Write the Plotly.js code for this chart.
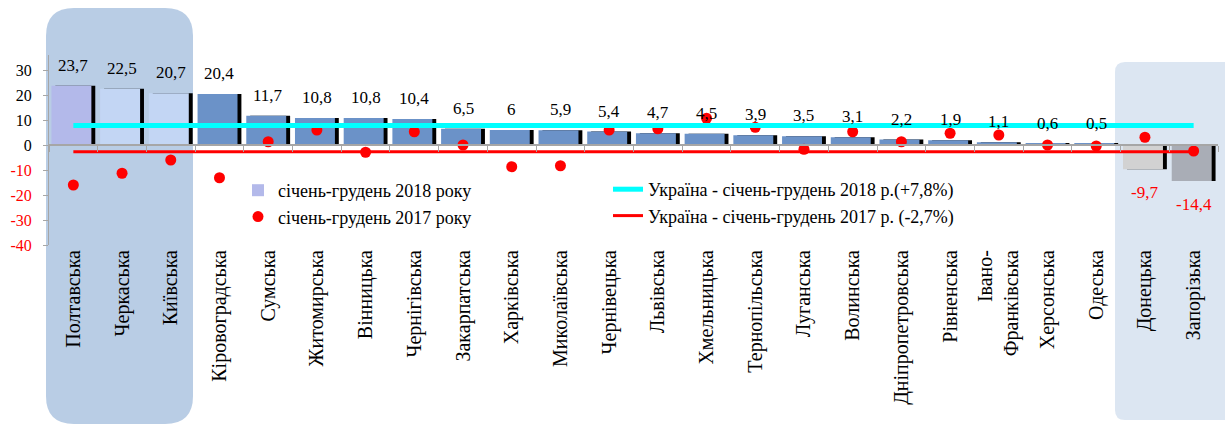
<!DOCTYPE html>
<html>
<head>
<meta charset="utf-8">
<script src="https://cdn.plot.ly/plotly-3.0.1.min.js"></script>
<style>
  html, body { margin: 0; padding: 0; background: #ffffff; }
  #chart { width: 1225px; height: 427px; }
</style>
</head>
<body>
<div id="chart"></div>
<script>
// Regions of Ukraine, sorted by growth in 2018
const regions = [
  'Полтавська', 'Черкаська', 'Київська', 'Кіровоградська', 'Сумська',
  'Житомирська', 'Вінницька', 'Чернігівська', 'Закарпатська', 'Харківська',
  'Миколаївська', 'Чернівецька', 'Львівська', 'Хмельницька', 'Тернопільська',
  'Луганська', 'Волинська', 'Дніпропетровська', 'Рівненська', 'Івано-<br>Франківська',
  'Херсонська', 'Одеська', 'Донецька', 'Запорізька'
];

// січень-грудень 2018 року, %
const growth2018 = [23.7, 22.5, 20.7, 20.4, 11.7, 10.8, 10.8, 10.4, 6.5, 6, 5.9, 5.4,
                    4.7, 4.5, 3.9, 3.5, 3.1, 2.2, 1.9, 1.1, 0.6, 0.5, -9.7, -14.4];

// січень-грудень 2017 року, %
const growth2017 = [-16.0, -11.3, -6.0, -13.1, 1.3, 6.0, -2.9, 5.3, 0.0, -8.7, -8.3, 6.0,
                    6.5, 10.7, 7.1, -1.7, 5.3, 1.3, 4.7, 4.0, 0.0, -0.4, 3.1, -2.4];

// Ukraine totals
const ukraine2018 = 7.8;
const ukraine2017 = -2.7;

const yTicks = [30, 20, 10, 0, -10, -20, -30, -40];

// ---- styling ----
const FONT = 'Liberation Serif';
const RED = '#ff0000';
const barColors = regions.map((r, i) => {
  if (i === 0) return '#b3b9ea';
  if (i === 1 || i === 2) return '#c3d6f4';
  if (i === 22) return '#d2d2d2';
  if (i === 23) return '#a9adb6';
  return '#6b92c8';
});

const fmt = v => String(v).replace('.', ',');

const lastIdx = regions.length - 1;
const ends = [regions[0], regions[lastIdx]];

const traces = [
  // bar shadow
  {
    type: 'bar', x: regions, y: growth2018,
    marker: { color: '#000000' },
    width: 0.82, offset: -0.37,
    showlegend: false, hoverinfo: 'skip'
  },
  {
    type: 'bar', x: regions, y: growth2018,
    name: 'січень-грудень 2018 року',
    marker: { color: barColors, line: { width: 0 } },
    width: 0.82, offset: -0.45,
    legend: 'legend'
  },
  {
    type: 'scatter', mode: 'lines', xaxis: 'x2',
    x: ends, y: [ukraine2017, ukraine2017],
    name: 'Україна - січень-грудень 2017 р. (-2,7%)',
    line: { color: RED, width: 3 },
    legend: 'legend2', legendrank: 2
  },
  {
    type: 'scatter', mode: 'lines', xaxis: 'x2',
    x: ends, y: [ukraine2018, ukraine2018],
    name: 'Україна - січень-грудень 2018 р.(+7,8%)',
    line: { color: '#00ffff', width: 5 },
    legend: 'legend2', legendrank: 1
  },
  {
    type: 'scatter', mode: 'markers', x: regions, y: growth2017,
    name: 'січень-грудень 2017 року',
    marker: { color: RED, size: 11 },
    legend: 'legend'
  }
];

// value labels on the bars
const annotations = growth2018.map((v, i) => ({
  x: regions[i], y: v, xref: 'x', yref: 'y',
  text: fmt(v), showarrow: false,
  yanchor: v >= 0 ? 'bottom' : 'top',
  yshift: v >= 0 ? 9 : -12,
  font: { family: FONT, size: 17, color: v >= 0 ? '#000000' : RED }
}));

// plot area in pixels, used to place the highlight panels
const L = 49, R = 7, T = 55, B = 182, W = 1225, H = 427;
const pw = W - L - R, ph = H - T - B;
const px = x => (x - L) / pw;
const py = y => (H - B - y) / ph;

function roundedPanel(x0p, x1p, ytp, ybp, rTL, rTR, rBR, rBL) {
  const x0 = px(x0p), x1 = px(x1p), yt = py(ytp), yb = py(ybp);
  const rx = r => r / pw, ry = r => r / ph;
  return 'M' + (x0 + rx(rTL)) + ',' + yt +
    ' L' + (x1 - rx(rTR)) + ',' + yt +
    ' Q' + x1 + ',' + yt + ' ' + x1 + ',' + (yt - ry(rTR)) +
    ' L' + x1 + ',' + (yb + ry(rBR)) +
    ' Q' + x1 + ',' + yb + ' ' + (x1 - rx(rBR)) + ',' + yb +
    ' L' + (x0 + rx(rBL)) + ',' + yb +
    ' Q' + x0 + ',' + yb + ' ' + x0 + ',' + (yb + ry(rBL)) +
    ' L' + x0 + ',' + (yt - ry(rTL)) +
    ' Q' + x0 + ',' + yt + ' ' + (x0 + rx(rTL)) + ',' + yt + ' Z';
}

const shapes = [
  {
    type: 'path', xref: 'paper', yref: 'paper', layer: 'below',
    path: roundedPanel(46, 193, 8, 424, 28, 28, 28, 28),
    fillcolor: '#b9cde5', line: { width: 0 }
  },
  {
    type: 'path', xref: 'paper', yref: 'paper', layer: 'below',
    path: roundedPanel(1115, 1240, 62, 420, 10, 0, 0, 10),
    fillcolor: '#dce6f2', line: { width: 0 }
  }
];

const catRange = [-0.5, regions.length - 0.5];
const yRange = [-40, 36];

const layout = {
  width: W, height: H,
  margin: { l: L, r: R, t: T, b: B },
  paper_bgcolor: '#ffffff',
  plot_bgcolor: 'rgba(0,0,0,0)',
  font: { family: FONT, color: '#000000' },
  barmode: 'overlay',
  xaxis: {
    type: 'category', categoryorder: 'array', categoryarray: regions,
    range: catRange, showline: false, ticks: '', showgrid: false, zeroline: false,
    tickangle: -90, tickfont: { family: FONT, size: 20, color: '#000000' }
  },
  // axis line drawn through zero with separators between regions
  xaxis2: {
    type: 'category', categoryorder: 'array', categoryarray: regions,
    range: catRange, overlaying: 'x', anchor: 'free',
    position: (0 - yRange[0]) / (yRange[1] - yRange[0]),
    showline: true, linecolor: '#a6a6a6', linewidth: 1.5,
    ticks: 'outside', tickson: 'boundaries', ticklen: 6, tickcolor: '#a6a6a6',
    showticklabels: false, showgrid: false, zeroline: false
  },
  yaxis: {
    range: yRange, tickmode: 'array', tickvals: yTicks,
    ticktext: yTicks.map(t => t < 0 ? '<span style="color:' + RED + '">' + t + '</span>' : String(t)),
    showline: true, linecolor: '#a6a6a6', ticks: 'outside', ticklen: 5, tickcolor: '#a6a6a6',
    showgrid: false, zeroline: false, ticklabelstandoff: 8,
    tickfont: { family: FONT, size: 16, color: '#000000' }
  },
  legend: {
    x: px(238), y: py(172), xanchor: 'left', yanchor: 'top',
    bgcolor: 'rgba(0,0,0,0)', borderwidth: 0,
    font: { family: FONT, size: 18, color: '#000000' }
  },
  legend2: {
    x: px(608), y: py(171), xanchor: 'left', yanchor: 'top',
    bgcolor: 'rgba(0,0,0,0)', borderwidth: 0,
    font: { family: FONT, size: 18, color: '#000000' }
  },
  shapes: shapes,
  annotations: annotations
};

Plotly.newPlot('chart', traces, layout, { displayModeBar: false, responsive: false });
</script>
</body>
</html>
